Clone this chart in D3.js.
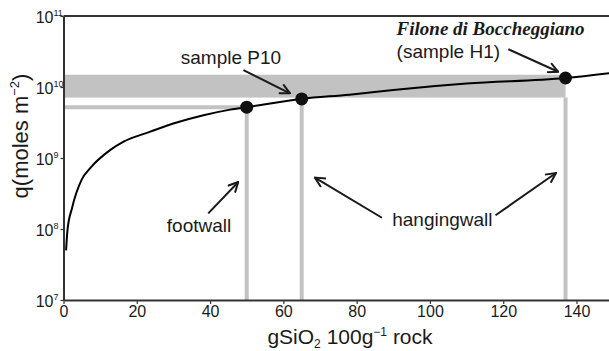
<!DOCTYPE html>
<html>
<head>
<meta charset="utf-8">
<script src="https://cdn.jsdelivr.net/npm/d3@7"></script>
<style>
  body { margin: 0; background: #fff; }
  svg { display: block; }
</style>
</head>
<body>
<div id="chart"></div>
<script>
// silica added (g SiO2 / 100 g rock) vs. fluid flux q (moles m^-2)
var silica = [0.7, 1.1, 2.3, 5.0, 7.3, 12.7, 16.4, 23.7, 30.9, 38.2, 45.5, 50, 65, 78, 90, 110, 137, 149];
var flux = [5.0e7, 9.8e7, 1.95e8, 5.0e8, 7.2e8, 1.29e9, 1.7e9, 2.35e9, 3.16e9, 4.0e9, 4.8e9, 5.2e9, 6.8e9, 7.8e9, 9.1e9, 1.12e10, 1.34e10, 1.57e10];

var sampleNames = ["footwall", "P10", "H1"];
var sampleSilica = [50, 65, 137];
var sampleFlux = [5.2e9, 6.8e9, 1.34e10];

var bandFlux = [7.1e9, 1.49e10];
var xTicks = [0, 20, 40, 60, 80, 100, 120, 140];
var yExponents = [7, 8, 9, 10, 11];

// annotation labels and arrows, in data units
var labelText = ["sample P10", "(sample H1)", "footwall", "hangingwall"];
var labelX = [32.0, 90.9, 28.2, 89.7];
var labelQ = [2.1e10, 2.6e10, 9.2e7, 1.1e8];
var arrowFrom = [[49.1, 1.73e10], [121.4, 3.4e10], [39.5, 1.66e8], [86.9, 1.44e8], [117.9, 1.56e8]];
var arrowTo = [[61.8, 8.15e9], [135.0, 1.64e10], [47.7, 4.6e8], [68.6, 5.3e8], [134.4, 6.15e8]];

var width = 609, height = 351,
    padLeft = 63.5, padRight = 609.5, padTop = 16, padBottom = 300,
    grey = "#c2c2c2", ink = "#1a1a1a", axisCol = "#333",
    sans = "'Liberation Sans', Arial, sans-serif";

var svg = d3.select("#chart").append("svg")
    .attr("width", width).attr("height", height);

var x = d3.scaleLinear().domain([0, 149]).range([padLeft, padRight]);
var y = d3.scaleLog().domain([1e7, 1e11]).range([padBottom, padTop]);

svg.append("defs").append("marker")
    .attr("id", "arrow")
    .attr("viewBox", "0 0 12 12")
    .attr("refX", 11).attr("refY", 6)
    .attr("markerWidth", 12).attr("markerHeight", 12)
    .attr("markerUnits", "userSpaceOnUse")
    .attr("orient", "auto")
  .append("path")
    .attr("d", "M1,1 L11,6 L1,11")
    .attr("fill", "none")
    .attr("stroke", ink)
    .attr("stroke-width", 2);

// grey band for the vein flux range
svg.append("rect")
    .attr("x", x(0))
    .attr("y", y(bandFlux[1]))
    .attr("width", x(sampleSilica[2]) - x(0))
    .attr("height", y(bandFlux[0]) - y(bandFlux[1]))
    .attr("fill", grey);

// footwall horizontal guide
svg.append("line")
    .attr("x1", x(0)).attr("x2", x(sampleSilica[0]))
    .attr("y1", y(sampleFlux[0])).attr("y2", y(sampleFlux[0]))
    .attr("stroke", grey).attr("stroke-width", 4);

// vertical guides
var guideTop = [sampleFlux[0], sampleFlux[1], bandFlux[0]];
svg.selectAll(".guide").data(sampleSilica).enter().append("line")
    .attr("class", "guide")
    .attr("x1", function(d){ return x(d); })
    .attr("x2", function(d){ return x(d); })
    .attr("y1", function(d, i){ return y(guideTop[i]); })
    .attr("y2", padBottom)
    .attr("stroke", grey).attr("stroke-width", 4);

// axes
var xAxis = svg.append("g")
    .attr("transform", "translate(0," + padBottom + ")")
    .call(d3.axisBottom(x).tickValues(xTicks).tickSize(4).tickSizeOuter(0).tickPadding(2));
xAxis.select(".domain").attr("stroke", axisCol).attr("stroke-width", 2);
xAxis.selectAll(".tick line").attr("stroke", axisCol).attr("stroke-width", 1.2);
xAxis.selectAll(".tick text")
    .attr("font-family", sans).attr("font-size", 16).attr("fill", ink);

var yAxis = svg.append("g")
    .attr("transform", "translate(" + padLeft + ",0)")
    .call(d3.axisLeft(y).tickValues(yExponents.map(function(e){ return Math.pow(10, e); }))
            .tickSize(3).tickSizeOuter(0).tickFormat(""));
yAxis.select(".domain").attr("stroke", axisCol).attr("stroke-width", 2);
yAxis.selectAll(".tick line").attr("stroke", axisCol).attr("stroke-width", 1.2);

yAxis.selectAll(".tick").each(function(d){
  var t = d3.select(this).append("text")
      .attr("y", 6)
      .attr("text-anchor", "start")
      .attr("font-family", sans).attr("font-size", 16).attr("fill", ink);
  t.append("tspan").text("10");
  t.append("tspan").attr("font-size", 9).attr("dy", -7).text(Math.round(Math.log10(d)));
  // place the base "10" so it ends just left of the axis
  var base = this.querySelector("text tspan").getComputedTextLength();
  t.attr("x", -10 - base);
});

// top border
svg.append("line")
    .attr("x1", padLeft).attr("x2", width)
    .attr("y1", padTop).attr("y2", padTop)
    .attr("stroke", axisCol).attr("stroke-width", 2);

// flux curve
var line = d3.line()
    .x(function(d){ return x(d[0]); })
    .y(function(d){ return y(d[1]); })
    .curve(d3.curveMonotoneX);
svg.append("path")
    .datum(d3.zip(silica, flux))
    .attr("d", line)
    .attr("fill", "none")
    .attr("stroke", "#000")
    .attr("stroke-width", 2);

// samples
svg.selectAll(".sample").data(sampleNames).enter().append("circle")
    .attr("class", "sample")
    .attr("cx", function(d, i){ return x(sampleSilica[i]); })
    .attr("cy", function(d, i){ return y(sampleFlux[i]); })
    .attr("r", 6.5)
    .attr("fill", "#111");

// arrows
svg.selectAll(".arrow").data(arrowFrom).enter().append("line")
    .attr("class", "arrow")
    .attr("x1", function(d){ return x(d[0]); })
    .attr("y1", function(d){ return y(d[1]); })
    .attr("x2", function(d, i){ return x(arrowTo[i][0]); })
    .attr("y2", function(d, i){ return y(arrowTo[i][1]); })
    .attr("stroke", ink).attr("stroke-width", 2)
    .attr("marker-end", "url(#arrow)");

// labels
svg.selectAll(".label").data(labelText).enter().append("text")
    .attr("class", "label")
    .attr("x", function(d, i){ return x(labelX[i]); })
    .attr("y", function(d, i){ return y(labelQ[i]); })
    .attr("font-family", sans).attr("font-size", 19).attr("fill", ink)
    .text(function(d){ return d; });

svg.append("text")
    .attr("x", x(90.9)).attr("y", y(5.4e10))
    .attr("font-family", "'Liberation Serif', 'Times New Roman', serif")
    .attr("font-weight", "bold").attr("font-style", "italic")
    .attr("font-size", 19).attr("fill", ink)
    .text("Filone di Boccheggiano");

// axis titles
var xt = svg.append("text")
    .attr("x", 350).attr("y", 344)
    .attr("text-anchor", "middle")
    .attr("font-family", sans).attr("font-size", 21).attr("fill", ink);
xt.append("tspan").text("gSiO");
xt.append("tspan").attr("font-size", 12).attr("dy", 4).text("2");
xt.append("tspan").attr("dy", -4).text(" 100g");
xt.append("tspan").attr("font-size", 12).attr("dy", -8).text("\u22121");
xt.append("tspan").attr("dy", 8).text(" rock");

var yt = svg.append("text")
    .attr("transform", "translate(28,136) rotate(-90)")
    .attr("text-anchor", "middle")
    .attr("font-family", sans).attr("font-size", 22).attr("fill", ink);
yt.append("tspan").text("q(moles m");
yt.append("tspan").attr("font-size", 13).attr("dy", -9).text("\u22122");
yt.append("tspan").attr("dy", 9).text(")");
</script>
</body>
</html>
